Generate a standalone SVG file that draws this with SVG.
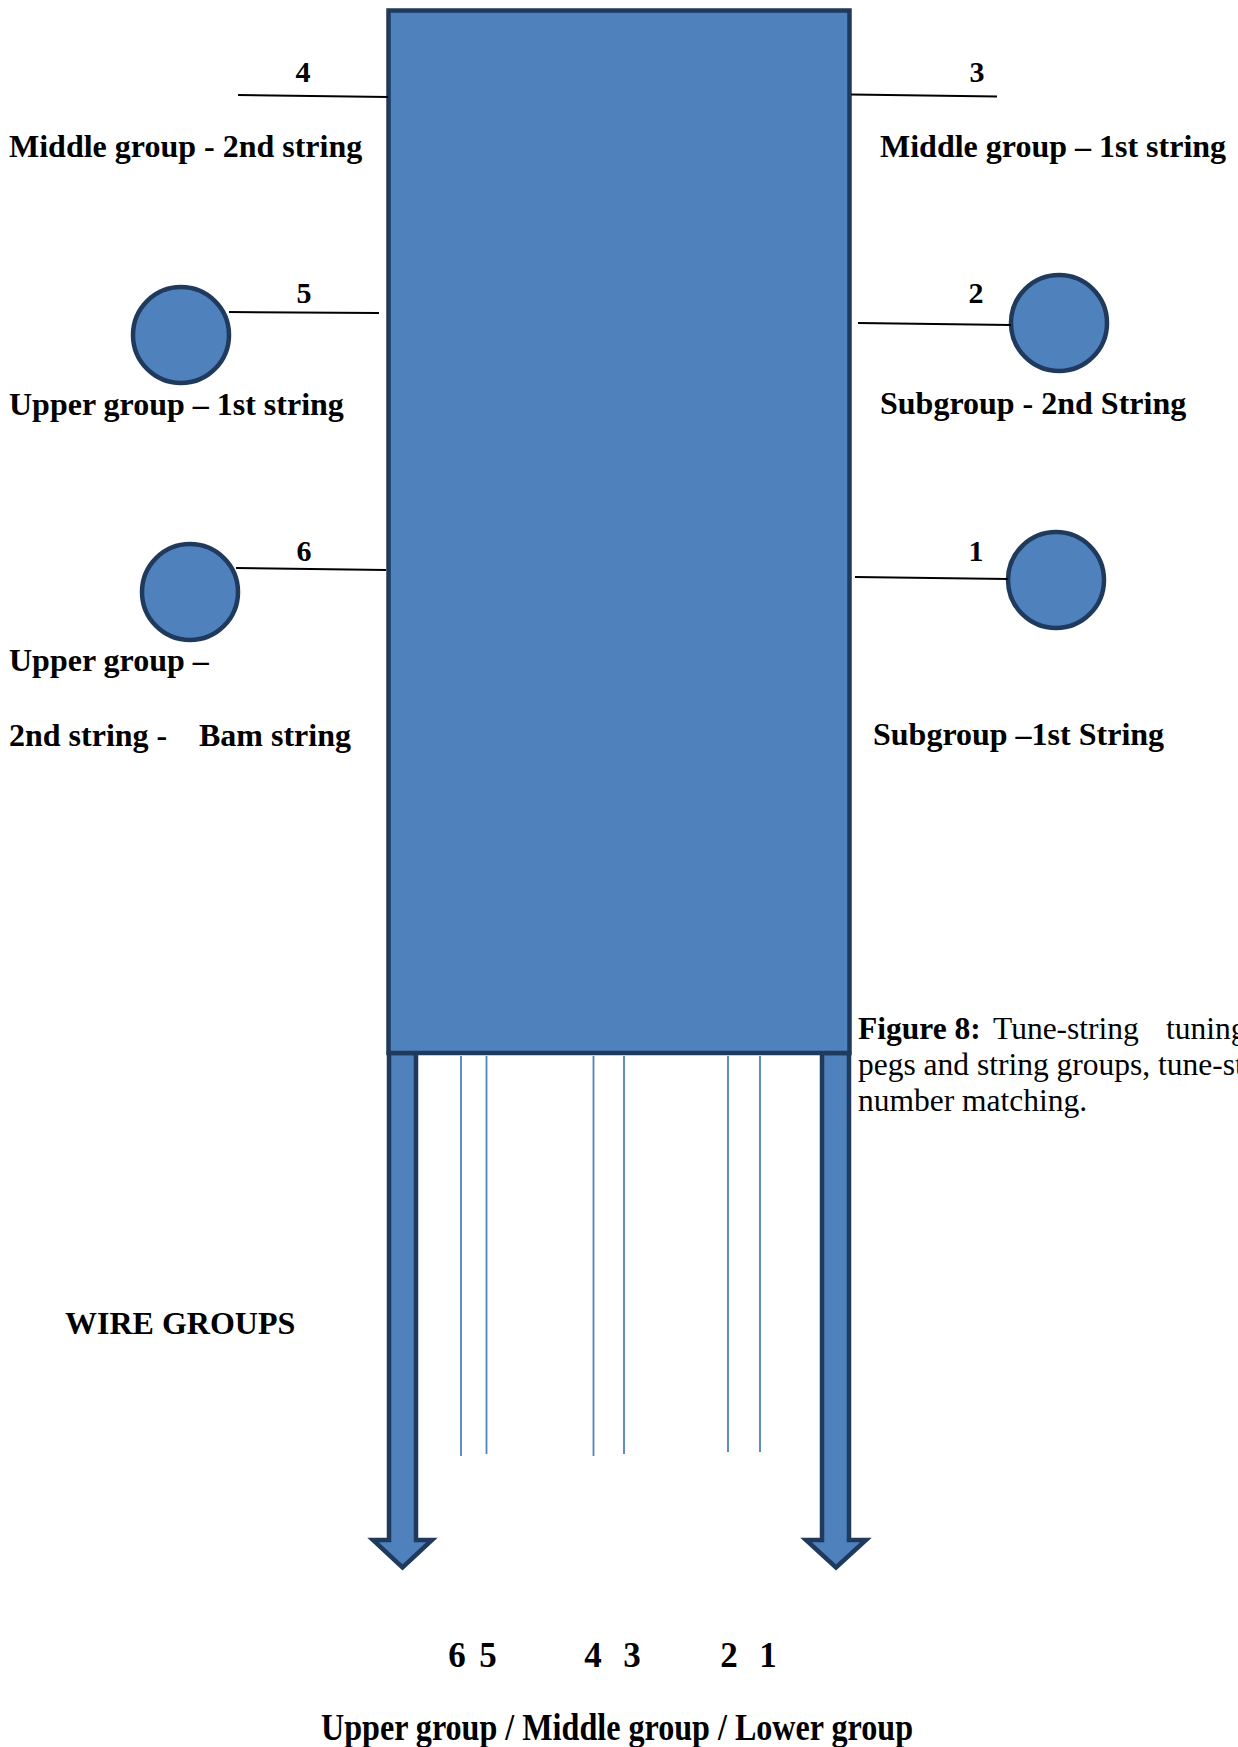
<svg xmlns="http://www.w3.org/2000/svg" width="1238" height="1747" viewBox="0 0 1238 1747">
<style>
.shape{fill:#4F81BD;stroke:#1F3A5C;stroke-width:4.5;stroke-linejoin:miter}
.peg{fill:#4F81BD;stroke:#1F3A5C;stroke-width:4.5}
.lbl{font-family:"Liberation Serif","Times New Roman",serif;font-weight:bold;font-size:32px;fill:#000}
.num{font-family:"Liberation Serif","Times New Roman",serif;font-weight:bold;font-size:30px;fill:#000;text-anchor:middle}
.cap{font-family:"Liberation Serif","Times New Roman",serif;font-size:31.5px;fill:#000}
.wire{stroke:#4F81BD;stroke-width:1.8;fill:none}
.conn{stroke:#000;stroke-width:2;fill:none}
</style>
<rect width="1238" height="1747" fill="#fff"/>
<g id="arrow-left"><polygon class="shape" points="389,1053 416,1053 416,1540 432,1540 402.5,1567.5 373,1540 389,1540"/></g>
<g id="arrow-right"><polygon class="shape" points="822,1053 849,1053 849,1540 866,1540 836,1567.5 806,1540 822,1540"/></g>
<g id="body"><rect class="shape" x="388.5" y="10.5" width="461" height="1042.5"/></g>
<g id="wires">
<line class="wire" x1="461" y1="1056" x2="461" y2="1456"/>
<line class="wire" x1="486.5" y1="1056" x2="486.5" y2="1454"/>
<line class="wire" x1="593.5" y1="1056" x2="593.5" y2="1456"/>
<line class="wire" x1="624" y1="1056" x2="624" y2="1454"/>
<line class="wire" x1="728" y1="1056" x2="728" y2="1452"/>
<line class="wire" x1="760" y1="1056" x2="760" y2="1452"/>
</g>
<g id="peg-5"><circle class="peg" cx="181" cy="335" r="48"/></g>
<g id="peg-6"><circle class="peg" cx="190" cy="592" r="48"/></g>
<g id="peg-2"><circle class="peg" cx="1059" cy="323" r="48"/></g>
<g id="peg-1"><circle class="peg" cx="1056" cy="580" r="48"/></g>
<g id="connectors">
<line class="conn" x1="238" y1="95" x2="388" y2="97"/>
<line class="conn" x1="851" y1="94.5" x2="997" y2="96.5"/>
<line class="conn" x1="229" y1="312" x2="379" y2="313"/>
<line class="conn" x1="858" y1="323" x2="1011" y2="325"/>
<line class="conn" x1="236" y1="568" x2="386" y2="570"/>
<line class="conn" x1="855" y1="577" x2="1008" y2="579"/>
</g>
<g id="numbers">
<text class="num" x="303" y="82">4</text>
<text class="num" x="977" y="82">3</text>
<text class="num" x="304" y="303">5</text>
<text class="num" x="976" y="303">2</text>
<text class="num" x="304" y="561">6</text>
<text class="num" x="976" y="561">1</text>
</g>
<g id="labels">
<text class="lbl" x="9" y="157">Middle group - 2nd string</text>
<text class="lbl" x="880" y="157">Middle group – 1st string</text>
<text class="lbl" x="9" y="415">Upper group – 1st string</text>
<text class="lbl" x="880" y="414">Subgroup - 2nd String</text>
<text class="lbl" x="9" y="671">Upper group –</text>
<text class="lbl" x="9" y="746">2nd string -</text>
<text class="lbl" x="199" y="746">Bam string</text>
<text class="lbl" x="873" y="745">Subgroup –1st String</text>
<text class="lbl" x="65" y="1334">WIRE GROUPS</text>
</g>
<g id="caption">
<text class="cap" y="1039"><tspan x="858" font-weight="bold">Figure 8:</tspan><tspan x="993">Tune-string</tspan><tspan x="1166">tuning</tspan></text>
<text class="cap" x="858" y="1075">pegs and string groups, tune-string</text>
<text class="cap" x="858" y="1111">number matching.</text>
</g>
<g id="bottom-numbers">
<text class="num" style="font-size:35px" y="1667"><tspan x="457">6</tspan><tspan x="488">5</tspan><tspan x="593">4</tspan><tspan x="632">3</tspan><tspan x="729">2</tspan><tspan x="768">1</tspan></text>
</g>
<g id="bottom-label">
<text class="lbl" style="font-size:37px" x="321" y="1740" textLength="592" lengthAdjust="spacingAndGlyphs">Upper group / Middle group / Lower group</text>
</g>
</svg>
